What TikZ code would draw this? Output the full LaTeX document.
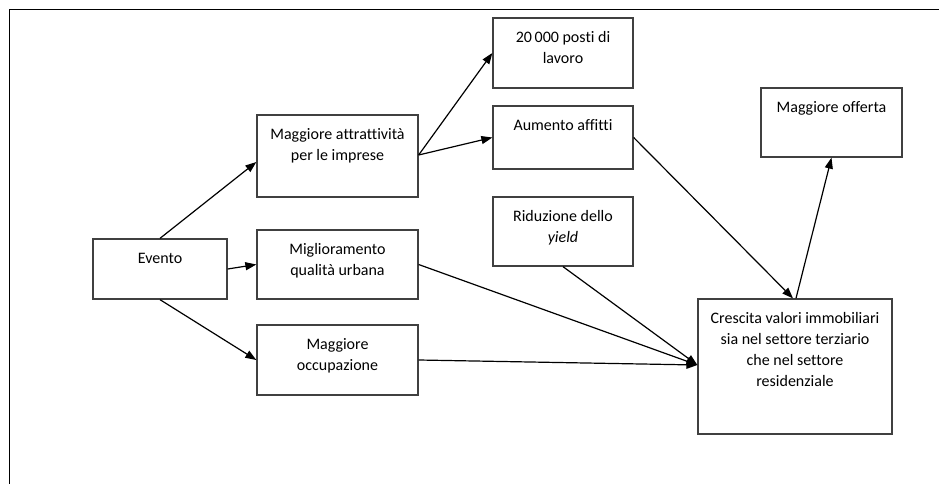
\documentclass[tikz,border=0pt]{standalone}
\usepackage{fontspec}
\setmainfont{Carlito}[Ligatures=NoCommon]
\usetikzlibrary{arrows.meta}
\newcommand{\bxt}[3]{\parbox[c][#2pt][t]{#1pt}{\centering\fontsize{16}{21}\selectfont\rule{0pt}{24.5pt}#3\par}}
\tikzset{
  box/.style={draw=black!75, line width=1.3pt, inner sep=0pt, rectangle},
  arr/.style={-{Triangle[length=11pt,width=8pt]}, line width=1.2pt, black},
  frame/.style={line width=1.3pt, black}
}
\begin{document}
\begin{tikzpicture}[x=1pt,y=1pt]
\useasboundingbox (0,0) rectangle (939,-484);
\draw[frame] (9.5,-484) -- (9.5,-9.5) -- (939,-9.5);

\node[box] (evento) at (160,-269) {\bxt{134}{60}{Evento}};
\node[box] (attr) at (337.5,-156) {\bxt{161}{82}{Maggiore attrattività\\per le imprese}};
\node[box] (mig) at (337.5,-264.5) {\bxt{161}{69}{Miglioramento\\qualità urbana}};
\node[box] (occ) at (337.5,-360) {\bxt{161}{70}{Maggiore\\occupazione}};
\node[box] (posti) at (563,-53) {\bxt{140}{70}{20\,000 posti di\\lavoro}};
\node[box] (aum) at (563,-137.5) {\bxt{140}{63}{Aumento affitti}};
\node[box] (rid) at (563,-231.5) {\bxt{140}{69}{Riduzione dello\\\textit{yield}}};
\node[box] (off) at (831.5,-122.5) {\bxt{141}{69}{Maggiore offerta}};
\node[box] (cre) at (795,-366.5) {\bxt{194}{135}{Crescita valori immobiliari\\sia nel settore terziario\\che nel settore\\residenziale}};

\draw[arr] (evento.north) -- ([yshift=-6pt]attr.west);
\draw[arr] (evento.east) -- (mig.west);
\draw[arr] (evento.south) -- (occ.west);
\draw[arr] ([yshift=1pt]attr.east) -- (posti.west);
\draw[arr] ([yshift=1pt]attr.east) -- (aum.west);
\draw[arr] (aum.east) -- ([xshift=-2pt]cre.north);
\draw[arr] ([xshift=1pt]cre.north) -- (off.south);
\draw[arr] (mig.east) -- ([yshift=1.5pt]cre.west);
\draw[arr] (rid.south) -- ([yshift=1.5pt]cre.west);
\draw[arr] (occ.east) -- ([yshift=1.5pt]cre.west);
\end{tikzpicture}
\end{document}
